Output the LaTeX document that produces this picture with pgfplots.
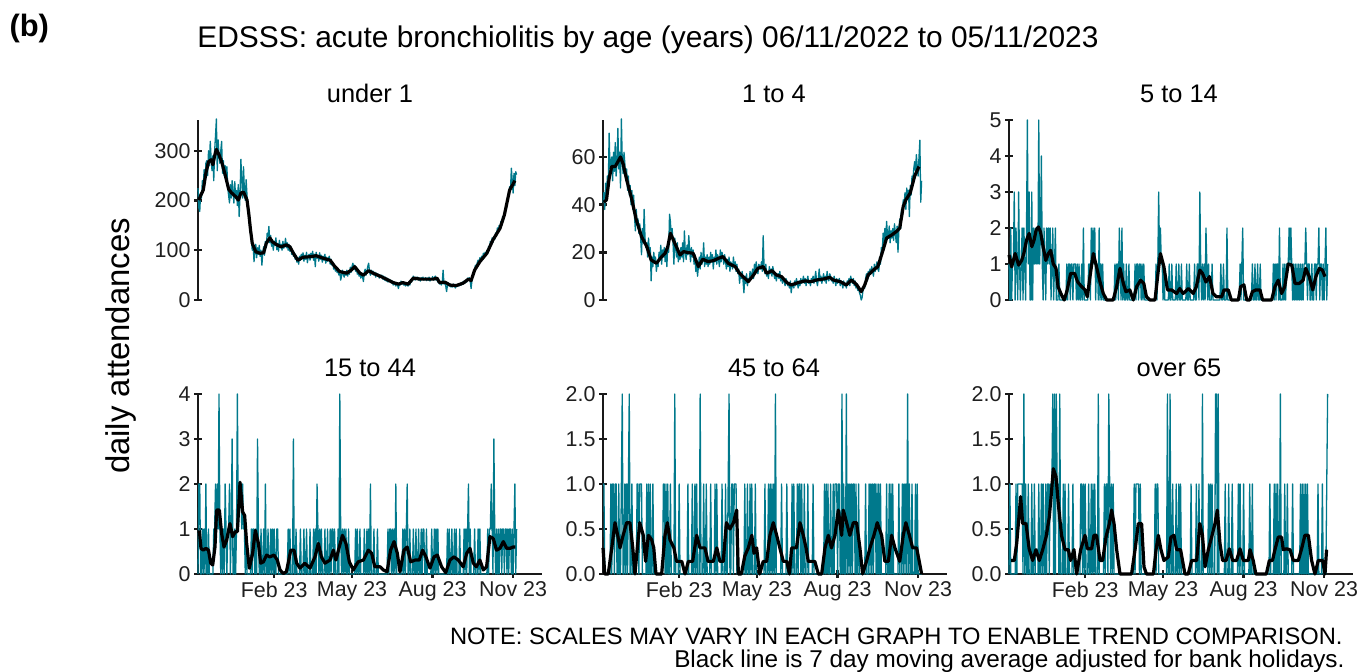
\documentclass[border=0pt]{standalone}
\usepackage{fontspec}
\setmainfont{Liberation Sans}
\usepackage{pgfplots}
\usepackage{pgfplotstable}
\pgfplotsset{compat=1.18}
\definecolor{tealc}{RGB}{0,121,140}
\definecolor{axc}{RGB}{25,25,25}

% under 1 (daily)
\pgfplotstableread[header=false,row sep=\\]{
225\\185\\178\\215\\205\\240\\228\\262\\235\\275\\
280\\250\\300\\270\\319\\285\\260\\290\\240\\300\\
330\\364\\260\\322\\290\\275\\300\\319\\255\\280\\
250\\270\\240\\268\\225\\210\\195\\232\\205\\240\\
218\\195\\238\\205\\220\\190\\232\\168\\210\\283\\
240\\205\\268\\220\\200\\242\\210\\188\\170\\150\\
135\\121\\100\\110\\77\\98\\112\\85\\105\\92\\
110\\88\\100\\70\\96\\107\\90\\118\\105\\134\\
128\\148\\115\\130\\108\\121\\100\\118\\110\\125\\
101\\114\\98\\120\\105\\112\\100\\118\\104\\110\\
124\\105\\115\\100\\112\\98\\108\\92\\100\\88\\
95\\82\\90\\76\\85\\72\\88\\80\\92\\84\\
95\\78\\90\\82\\96\\75\\88\\92\\80\\94\\
85\\98\\80\\92\\67\\96\\84\\90\\78\\95\\
82\\90\\76\\88\\80\\92\\74\\86\\78\\84\\
88\\72\\82\\70\\76\\62\\70\\58\\66\\55\\
62\\50\\58\\40\\48\\60\\52\\46\\56\\50\\
60\\48\\58\\52\\66\\56\\68\\74\\62\\70\\
58\\66\\52\\60\\48\\56\\44\\54\\46\\37\\
56\\62\\50\\58\\68\\74\\56\\50\\60\\52\\
58\\50\\56\\46\\54\\48\\52\\44\\50\\46\\
50\\42\\48\\40\\46\\38\\44\\36\\42\\38\\
40\\34\\38\\30\\36\\32\\28\\35\\30\\23\\
34\\30\\38\\32\\36\\30\\34\\28\\35\\30\\
28\\34\\30\\38\\36\\42\\48\\44\\40\\46\\
42\\46\\40\\44\\38\\45\\41\\46\\40\\43\\
45\\39\\44\\40\\46\\38\\43\\41\\47\\40\\
44\\48\\40\\42\\36\\38\\32\\36\\30\\34\\
60\\32\\36\\28\\17\\30\\34\\28\\32\\26\\
30\\26\\32\\28\\24\\30\\27\\32\\28\\31\\
34\\30\\36\\32\\38\\34\\40\\36\\44\\40\\
45\\38\\23\\40\\48\\58\\62\\70\\66\\75\\
80\\72\\85\\78\\88\\82\\94\\86\\96\\90\\
100\\94\\108\\104\\118\\110\\125\\116\\127\\122\\
135\\128\\145\\138\\150\\142\\158\\150\\168\\160\\
175\\185\\180\\195\\205\\210\\228\\222\\265\\240\\
215\\255\\230\\258\\252\\
}\tA

% 1 to 4 (daily)
\pgfplotstableread[header=false,row sep=\\]{
41\\45\\38\\49\\44\\52\\47\\70\\55\\58\\
60\\50\\62\\54\\66\\52\\58\\72\\55\\62\\
47\\76\\58\\53\\62\\57\\50\\55\\46\\52\\
44\\48\\40\\46\\38\\44\\35\\29\\38\\32\\
34\\28\\32\\26\\19\\30\\24\\38\\26\\22\\
24\\18\\26\\20\\22\\8\\18\\14\\20\\16\\
18\\12\\16\\14\\20\\17\\23\\15\\21\\18\\
22\\16\\21\\14\\24\\20\\36\\33\\26\\30\\
24\\15\\26\\22\\18\\24\\16\\20\\17\\22\\
18\\24\\16\\29\\20\\17\\23\\19\\27\\21\\
16\\22\\18\\21\\15\\19\\12\\16\\10\\14\\
18\\13\\20\\15\\17\\24\\14\\18\\15\\19\\
14\\18\\15\\20\\16\\19\\13\\18\\16\\21\\
15\\19\\17\\14\\21\\16\\20\\18\\15\\19\\
16\\13\\17\\14\\18\\12\\16\\15\\13\\18\\
14\\16\\12\\15\\11\\13\\7\\11\\9\\12\\
8\\3\\10\\7\\11\\6\\9\\8\\12\\10\\
11\\13\\9\\15\\12\\16\\13\\11\\15\\14\\
13\\16\\12\\27\\14\\11\\15\\10\\12\\9\\
14\\11\\13\\10\\14\\12\\9\\11\\8\\10\\
11\\9\\12\\8\\10\\7\\9\\8\\6\\9\\
8\\6\\7\\5\\8\\3\\6\\7\\5\\8\\
6\\9\\7\\5\\8\\6\\9\\7\\8\\10\\
7\\9\\6\\8\\10\\7\\8\\6\\9\\8\\
10\\7\\9\\12\\8\\6\\9\\13\\8\\10\\
7\\9\\11\\8\\10\\7\\12\\9\\8\\11\\
10\\8\\9\\7\\10\\8\\6\\9\\7\\8\\
9\\6\\8\\7\\5\\8\\6\\7\\5\\8\\
7\\9\\6\\10\\8\\7\\9\\6\\8\\5\\
7\\4\\5\\3\\2\\0\\1\\4\\6\\5\\
9\\11\\8\\12\\10\\13\\11\\14\\12\\10\\
15\\12\\14\\16\\13\\12\\18\\15\\22\\20\\
28\\24\\30\\25\\33\\27\\26\\31\\24\\29\\
26\\30\\25\\32\\28\\24\\31\\20\\29\\34\\
30\\38\\35\\42\\40\\45\\38\\47\\43\\46\\
35\\48\\44\\52\\50\\55\\58\\54\\61\\56\\
52\\60\\67\\41\\50\\
}\tB

% 5 to 14 (daily)
\pgfplotstableread[header=false,row sep=\\]{
1\\0\\2\\0\\1\\1\\3\\
0\\2\\1\\0\\3\\1\\0\\
1\\2\\0\\2\\1\\0\\2\\
5\\1\\3\\0\\0\\3\\0\\
2\\1\\2\\1\\2\\1\\5\\
1\\2\\4\\1\\0\\2\\1\\
0\\2\\1\\2\\1\\2\\0\\
1\\2\\0\\1\\2\\0\\0\\
0\\1\\0\\0\\0\\0\\0\\
0\\0\\0\\1\\0\\1\\1\\
0\\1\\1\\0\\1\\1\\1\\
0\\1\\0\\1\\0\\0\\1\\
0\\2\\0\\0\\0\\0\\0\\
1\\1\\0\\2\\1\\2\\1\\
2\\0\\1\\1\\0\\2\\0\\
1\\0\\1\\0\\0\\0\\0\\
0\\0\\0\\0\\0\\0\\0\\
0\\0\\1\\0\\1\\1\\0\\
2\\1\\0\\2\\0\\1\\0\\
0\\1\\0\\0\\1\\0\\0\\
0\\0\\0\\0\\1\\0\\1\\
1\\0\\1\\1\\0\\1\\0\\
1\\0\\0\\0\\0\\0\\0\\
0\\0\\0\\0\\0\\0\\0\\
1\\0\\1\\3\\1\\2\\1\\
1\\0\\1\\0\\0\\0\\0\\
0\\1\\0\\0\\1\\0\\0\\
0\\0\\1\\0\\0\\1\\0\\
0\\1\\0\\0\\0\\0\\0\\
1\\0\\0\\1\\0\\0\\0\\
0\\0\\1\\0\\0\\1\\1\\
0\\3\\1\\0\\1\\0\\1\\
0\\2\\1\\0\\1\\0\\0\\
0\\1\\0\\0\\0\\0\\0\\
0\\0\\0\\0\\1\\0\\0\\
1\\0\\0\\0\\2\\0\\0\\
0\\0\\0\\0\\0\\0\\0\\
0\\0\\0\\0\\0\\1\\0\\
1\\2\\0\\0\\0\\0\\0\\
0\\0\\0\\0\\0\\1\\0\\
0\\1\\0\\0\\1\\0\\0\\
1\\0\\0\\0\\0\\0\\0\\
0\\0\\0\\0\\0\\0\\0\\
0\\1\\0\\1\\0\\1\\1\\
0\\2\\0\\0\\0\\1\\0\\
1\\0\\1\\1\\1\\2\\1\\
2\\1\\0\\1\\0\\1\\0\\
1\\0\\1\\0\\1\\0\\1\\
0\\1\\1\\2\\1\\0\\1\\
1\\0\\0\\1\\0\\0\\1\\
1\\0\\1\\1\\2\\0\\1\\
1\\0\\1\\0\\1\\2\\0\\
1\\
}\tC

% 15 to 44 (daily)
\pgfplotstableread[header=false,row sep=\\]{
0\\2\\2\\0\\0\\1\\0\\
1\\0\\2\\0\\0\\1\\0\\
0\\0\\0\\0\\1\\1\\2\\
1\\2\\1\\4\\1\\0\\1\\
0\\1\\0\\2\\1\\0\\1\\
1\\2\\0\\1\\3\\0\\0\\
1\\0\\1\\4\\1\\2\\2\\
2\\1\\2\\1\\1\\0\\1\\
0\\0\\0\\0\\0\\1\\0\\
1\\1\\0\\1\\0\\3\\1\\
0\\0\\1\\0\\0\\1\\0\\
2\\0\\0\\1\\0\\0\\1\\
0\\1\\0\\1\\0\\0\\1\\
1\\0\\0\\0\\0\\0\\0\\
0\\0\\0\\0\\0\\1\\0\\
1\\0\\0\\0\\3\\0\\0\\
1\\0\\0\\0\\0\\1\\0\\
0\\0\\1\\0\\0\\1\\0\\
0\\0\\1\\0\\0\\0\\1\\
0\\1\\0\\2\\1\\0\\1\\
0\\1\\0\\0\\0\\1\\0\\
0\\1\\0\\0\\1\\0\\1\\
1\\0\\1\\0\\0\\0\\1\\
0\\4\\1\\0\\1\\0\\1\\
0\\1\\0\\0\\1\\0\\0\\
0\\0\\0\\0\\0\\1\\0\\
1\\0\\0\\1\\0\\0\\0\\
0\\1\\0\\0\\1\\0\\1\\
0\\2\\0\\0\\0\\1\\0\\
0\\0\\1\\0\\0\\0\\0\\
0\\0\\0\\0\\0\\0\\0\\
1\\0\\1\\1\\0\\1\\0\\
1\\0\\2\\0\\0\\0\\0\\
0\\0\\0\\1\\0\\1\\0\\
1\\2\\0\\0\\1\\0\\0\\
0\\1\\0\\0\\1\\0\\0\\
1\\0\\0\\1\\0\\1\\1\\
0\\0\\1\\0\\0\\0\\0\\
0\\1\\0\\0\\1\\0\\1\\
0\\1\\0\\0\\0\\0\\0\\
0\\0\\0\\0\\0\\1\\0\\
1\\0\\0\\1\\0\\0\\1\\
0\\1\\0\\0\\0\\1\\0\\
0\\0\\0\\1\\0\\1\\0\\
1\\2\\0\\1\\0\\0\\0\\
0\\1\\0\\0\\0\\1\\0\\
1\\0\\0\\0\\0\\0\\0\\
0\\0\\1\\0\\1\\1\\2\\
1\\0\\3\\1\\0\\1\\0\\
1\\0\\1\\1\\0\\1\\1\\
0\\1\\1\\0\\1\\0\\1\\
1\\0\\1\\0\\1\\2\\0\\
1\\
}\tD

% 45 to 64 (daily)
\pgfplotstableread[header=false,row sep=\\]{
1\\1\\0\\0\\0\\0\\0\\
0\\0\\1\\0\\1\\1\\0\\
1\\1\\0\\0\\1\\0\\0\\
1\\2\\0\\0\\1\\0\\1\\
0\\1\\2\\0\\0\\1\\0\\
0\\0\\0\\0\\1\\1\\0\\
1\\1\\1\\0\\0\\0\\0\\
0\\1\\0\\1\\0\\1\\0\\
0\\1\\0\\0\\0\\0\\0\\
0\\0\\0\\0\\0\\0\\1\\
1\\0\\1\\0\\1\\0\\0\\
1\\0\\0\\0\\0\\2\\0\\
0\\0\\0\\1\\0\\0\\0\\
0\\0\\0\\0\\0\\0\\1\\
0\\0\\0\\0\\1\\0\\0\\
1\\0\\1\\0\\0\\0\\2\\
0\\0\\0\\1\\0\\0\\1\\
0\\0\\0\\0\\1\\0\\0\\
0\\0\\1\\0\\1\\0\\0\\
0\\0\\0\\1\\0\\0\\0\\
1\\0\\0\\1\\2\\0\\0\\
1\\1\\0\\1\\1\\1\\0\\
0\\0\\0\\0\\0\\0\\0\\
0\\1\\0\\0\\1\\0\\0\\
1\\0\\1\\0\\0\\0\\1\\
0\\0\\0\\0\\0\\0\\0\\
0\\0\\0\\1\\0\\0\\0\\
1\\0\\1\\0\\1\\0\\1\\
0\\2\\0\\0\\0\\0\\0\\
0\\1\\0\\0\\0\\0\\0\\
1\\0\\0\\0\\0\\0\\1\\
0\\1\\0\\0\\0\\1\\0\\
1\\1\\0\\1\\0\\0\\1\\
0\\0\\0\\1\\0\\0\\0\\
0\\0\\1\\0\\0\\0\\0\\
0\\0\\0\\0\\0\\0\\0\\
0\\1\\0\\1\\0\\1\\0\\
0\\1\\0\\0\\1\\0\\1\\
1\\1\\0\\1\\1\\0\\0\\
2\\0\\1\\0\\0\\2\\0\\
1\\0\\1\\0\\1\\0\\1\\
1\\0\\1\\0\\0\\1\\0\\
0\\0\\0\\0\\0\\0\\1\\
0\\0\\0\\1\\0\\1\\0\\
1\\0\\1\\1\\0\\1\\0\\
1\\0\\1\\0\\0\\0\\0\\
0\\0\\1\\0\\0\\1\\0\\
1\\0\\1\\0\\0\\0\\0\\
0\\0\\1\\0\\0\\0\\1\\
0\\1\\0\\1\\0\\2\\0\\
1\\0\\0\\1\\0\\0\\0\\
1\\0\\1\\0\\0\\0\\0\\
0\\
}\tE

% over 65 (daily)
\pgfplotstableread[header=false,row sep=\\]{
0\\1\\0\\0\\0\\0\\0\\
0\\1\\0\\1\\1\\1\\1\\
1\\1\\0\\2\\0\\1\\0\\
0\\1\\0\\0\\0\\1\\0\\
0\\1\\0\\0\\0\\0\\1\\
0\\0\\1\\0\\1\\0\\0\\
1\\0\\1\\1\\0\\1\\1\\
1\\2\\0\\2\\0\\2\\1\\
1\\0\\2\\0\\0\\0\\1\\
0\\1\\0\\0\\0\\1\\0\\
0\\0\\0\\1\\0\\0\\0\\
0\\0\\0\\0\\0\\1\\1\\
0\\1\\0\\1\\0\\0\\0\\
1\\0\\0\\1\\0\\1\\0\\
1\\0\\0\\0\\2\\0\\0\\
0\\0\\0\\0\\1\\0\\1\\
1\\0\\2\\1\\0\\1\\0\\
1\\0\\0\\0\\0\\0\\0\\
0\\0\\0\\0\\0\\0\\0\\
0\\0\\0\\0\\0\\0\\0\\
0\\0\\0\\1\\0\\1\\1\\
1\\1\\0\\1\\0\\0\\0\\
0\\0\\0\\0\\0\\0\\0\\
0\\0\\0\\0\\0\\0\\1\\
0\\1\\1\\0\\0\\0\\0\\
0\\0\\0\\0\\0\\0\\2\\
0\\0\\2\\0\\0\\1\\0\\
0\\0\\1\\0\\0\\1\\0\\
1\\0\\0\\0\\0\\0\\0\\
0\\0\\0\\0\\0\\1\\0\\
0\\0\\0\\0\\1\\0\\0\\
1\\0\\0\\0\\2\\0\\0\\
0\\0\\0\\0\\1\\0\\1\\
0\\1\\0\\0\\0\\2\\2\\
0\\2\\0\\0\\0\\0\\0\\
0\\0\\1\\0\\0\\0\\1\\
0\\0\\0\\1\\0\\0\\0\\
0\\0\\0\\1\\0\\1\\0\\
0\\0\\1\\0\\0\\0\\0\\
0\\0\\1\\0\\0\\1\\0\\
0\\0\\0\\0\\0\\0\\0\\
0\\0\\0\\0\\0\\0\\0\\
0\\0\\0\\0\\1\\0\\0\\
0\\0\\1\\0\\1\\0\\1\\
0\\0\\2\\0\\0\\0\\0\\
1\\0\\0\\1\\0\\0\\0\\
0\\0\\1\\0\\0\\0\\0\\
0\\0\\0\\0\\1\\0\\1\\
0\\1\\0\\1\\0\\1\\0\\
0\\0\\0\\0\\0\\0\\0\\
0\\0\\0\\1\\0\\0\\0\\
0\\1\\0\\0\\0\\0\\1\\
2\\
}\tF

\pgfplotsset{
  panel/.style={
    width=344bp, height=180bp, scale only axis,
    xmin=0, xmax=393, ymin=0,
    clip=false,
    axis line style={-, line width=2.4bp, axc},
    tick style={line width=2.4bp, axc},
    major tick length=8bp,
    tick align=outside,
    tick label style={font=\fontsize{21.5}{25}\selectfont, text=black!88},
  },
  toprow/.style={panel, axis x line=none, axis y line=left, axis line style={-}, xtick=\empty},
  botrow/.style={panel, axis x line=bottom, axis y line=left, axis line style={-},
    xtick={87,176,268,360}, xticklabels={Feb 23,May 23,Aug 23,Nov 23}},
  tl/.style={color=tealc, line width=1.3bp, line join=round},
  ml/.style={color=black, line width=3.2bp, line join=round},
}

\begin{document}
\begin{tikzpicture}
\path[use as bounding box] (0,0) rectangle (1357bp,672bp);

\node[anchor=base west, font=\bfseries\fontsize{31}{36}\selectfont] at (6bp,635bp) {(b)};
\node[anchor=base, font=\fontsize{30}{34}\selectfont] at (648bp,624bp) {EDSSS: acute bronchiolitis by age (years) 06/11/2022 to 05/11/2023};
\node[rotate=90, font=\fontsize{33}{38}\selectfont] at (121bp,326bp) {daily attendances};

\node[anchor=base, font=\fontsize{25.5}{30}\selectfont] at (370bp,569bp) {under 1};
\node[anchor=base, font=\fontsize{25.5}{30}\selectfont] at (774bp,569bp) {1 to 4};
\node[anchor=base, font=\fontsize{25.5}{30}\selectfont] at (1179bp,569bp) {5 to 14};
\node[anchor=base, font=\fontsize{25.5}{30}\selectfont] at (370bp,295bp) {15 to 44};
\node[anchor=base, font=\fontsize{25.5}{30}\selectfont] at (774bp,295bp) {45 to 64};
\node[anchor=base, font=\fontsize{25.5}{30}\selectfont] at (1179bp,295bp) {over 65};

\node[anchor=base east, font=\fontsize{23.8}{28}\selectfont] at (1346bp,28bp) {NOTE: SCALES MAY VARY IN EACH GRAPH TO ENABLE TREND COMPARISON.};
\node[anchor=base east, font=\fontsize{24.4}{28}\selectfont] at (1348bp,5bp) {Black line is 7 day moving average adjusted for bank holidays.};

% under 1
\begin{axis}[toprow, at={(198bp,372bp)}, anchor=south west, ymax=362,
  ytick={0,100,200,300}, yticklabels={0,100,200,300}]
\addplot[tl] table[x expr=\coordindex, y index=0] {\tA};
\addplot[ml] coordinates {(1,201)(3,210)(6,221)(9,255)(12,278)(15,282)(17,272)(19,290)(21,303)(24,292)(27,278)(31,252)(35,223)(38,216)(43,208)(46,201)(49,215)(52,217)(56,201)(58,174)(60,141)(62,114)(66,97)(71,94)(75,95)(78,114)(82,125)(85,117)(90,111)(95,107)(101,111)(105,107)(109,94)(114,80)(120,86)(128,87)(135,89)(143,84)(151,80)(156,68)(162,57)(170,54)(175,60)(179,67)(185,54)(189,50)(195,59)(200,54)(208,48)(215,42)(223,35)(229,32)(234,35)(240,32)(246,44)(254,42)(261,42)(269,42)(273,44)(276,35)(282,36)(288,30)(295,29)(303,34)(309,42)(312,39)(316,60)(322,77)(330,94)(337,121)(345,144)(350,171)(356,221)(362,240)};
\end{axis}

% 1 to 4
\begin{axis}[toprow, at={(603bp,372bp)}, anchor=south west, ymax=75.5,
  ytick={0,20,40,60}, yticklabels={0,20,40,60}]
\addplot[tl] table[x expr=\coordindex, y index=0] {\tB};
\addplot[ml] coordinates {(1,41)(4,42)(7,51)(10,56)(14,56)(17,58)(20,60)(23,57)(27,50.5)(33,42)(38,33.6)(44,26.6)(50,22.4)(55,16.8)(61,15.4)(67,18.2)(71,19.6)(74,22.4)(77,28)(82,23.8)(88,18.9)(92,20.3)(97,19.9)(103,19.6)(109,14)(114,17.1)(120,16.1)(126,16.5)(132,17.5)(137,18.2)(143,15.4)(151,14)(156,11.2)(162,9.1)(166,7.7)(172,10.5)(177,13.3)(183,14)(187,11.2)(193,12.3)(198,10.5)(204,9.8)(210,7.3)(215,6.3)(223,7.3)(231,8)(238,7.7)(244,8.4)(252,8.8)(259,9.5)(263,8.4)(271,7.7)(278,6.3)(284,8.4)(290,6.3)(295,3.5)(299,6.3)(303,10.5)(309,12.6)(314,14)(320,21)(324,26)(330,27.3)(335,28.7)(339,30.1)(343,39.3)(346,42)(351,44.9)(356,51.9)(361,56)};
\end{axis}

% 5 to 14
\begin{axis}[toprow, at={(1009bp,372bp)}, anchor=south west, ymax=5,
  ytick={0,1,2,3,4,5}, yticklabels={0,1,2,3,4,5}]
\addplot[tl] table[x expr=\coordindex, y index=0] {\tC};
\addplot[ml] coordinates {(0,1.25)(3,0.92)(7,1.29)(11,0.97)(14.5,1.1)(17,1.3)(20,1.66)(23,1.85)(26,1.48)(28.6,1.66)(31,1.94)(33.5,2.03)(36,1.89)(39,1.48)(42,1.1)(45,1.29)(47.6,1.38)(50.6,1.0)(53.7,0.88)(56,0.37)(60,0.14)(63,0)(66,0.23)(70.4,0.74)(75,0.74)(78.4,0.5)(83,0.37)(86.8,0.28)(89.5,0.09)(92.5,0.65)(96.3,1.29)(100,0.92)(104,0.5)(107.7,0.18)(111.6,0)(119,0)(123,0.37)(126.8,0.88)(130.6,0.46)(133.6,0.23)(138,0.28)(142,0)(145.8,0.37)(150.4,0.55)(154,0.46)(157,0.09)(161,0)(166.8,0)(170.6,0.83)(173,1.29)(177,0.92)(181,0.28)(185.8,0.28)(191.5,0.18)(195,0.32)(199,0.18)(205,0.32)(210.5,0.18)(214,0.37)(218,0.83)(221,0.74)(225,0.5)(229,0.65)(233,0.18)(237,0.09)(243,0.09)(245.6,0.28)(250.5,0.28)(254,0)(262,0)(264.6,0.37)(268.4,0.42)(271.5,0)(275,0)(278,0.23)(282,0.28)(286.7,0.28)(289.7,0)(300,0)(303.8,0.37)(307.6,0.55)(311.4,0.18)(315,0.37)(319,1.0)(323,0.97)(326.7,0.46)(331.6,0.46)(336,0.55)(339,0.88)(343,0.65)(347,0.28)(350.6,0.65)(354.5,0.88)(358,0.83)(361,0.65)};
\end{axis}

% 15 to 44
\begin{axis}[botrow, at={(198bp,98bp)}, anchor=south west, ymax=4,
  ytick={0,1,2,3,4}, yticklabels={0,1,2,3,4}]
\addplot[tl] table[x expr=\coordindex, y index=0] {\tD};
\addplot[ml] coordinates {(1.5,0.97)(3.4,0.57)(6,0.53)(9,0.57)(12,0.53)(14.5,0.24)(16.8,0.2)(19.4,0.6)(21.3,1.42)(24.4,1.42)(27,0.9)(29.7,0.6)(32.7,0.75)(36.5,1.12)(39.6,0.83)(42.6,0.94)(45,0.94)(48,2.04)(51,1.38)(53.3,1.3)(55.6,0.68)(58.6,0.13)(62.4,0.46)(65.5,0.97)(69,0.68)(71.6,0.24)(74.6,0.27)(78.4,0.42)(82,0.38)(86.8,0.42)(90.6,0.31)(93.7,0.09)(97.5,0.01)(101,0.05)(106,0.53)(109.7,0.53)(112.7,0.24)(116.5,0.13)(122,0.24)(128,0.13)(133.6,0.38)(137.5,0.68)(141,0.38)(145,0.24)(150.8,0.31)(154.6,0.53)(157.6,0.31)(161.4,0.6)(165,0.86)(169,0.68)(172.9,0.27)(177.4,0.09)(183,0.27)(189,0.31)(194.6,0.53)(198.4,0.46)(202,0.16)(208,0.16)(211.7,0.09)(216,0.05)(220,0.53)(224,0.72)(227.7,0.46)(230.7,0.05)(235.3,0.53)(239,0.6)(243,0.27)(248,0.31)(252.8,0.31)(256.6,0.53)(260.4,0.38)(265,0.13)(269.6,0.38)(273.4,0.42)(278.3,0.16)(283,0.03)(287.8,0.31)(292.4,0.38)(297.4,0.31)(303,0.16)(307,0.46)(310.7,0.57)(314.5,0.24)(318,0.16)(322,0.31)(326,0.09)(329.7,0.16)(333.5,0.83)(337.3,0.79)(341,0.53)(345,0.57)(348.8,0.72)(352.6,0.57)(356.4,0.57)(360,0.6)(362.5,0.6)};
\end{axis}

% 45 to 64
\begin{axis}[botrow, at={(603bp,98bp)}, anchor=south west, ymax=2,
  ytick={0,0.5,1,1.5,2}, yticklabels={0.0,0.5,1.0,1.5,2.0}]
\addplot[tl] table[x expr=\coordindex, y index=0] {\tE};
\addplot[ml] coordinates {(0,0.29)(2,0)(6,0)(10,0.29)(13.7,0.57)(16.8,0.43)(19.4,0.29)(23,0.43)(27,0.57)(30.8,0.57)(34,0.29)(36.5,0)(39.2,0.29)(42,0.57)(46,0.43)(48.7,0.14)(51.8,0.43)(55.6,0.38)(58,0.29)(60.5,0)(67,0)(70.8,0.43)(73.5,0.57)(76.5,0.38)(81,0.29)(84,0.14)(90,0.14)(93.7,0)(97.5,0.14)(102.4,0.14)(107,0.43)(110.8,0.29)(116.5,0.29)(120,0.14)(126,0.14)(130,0.29)(133.6,0.14)(137.4,0.14)(141,0.57)(145,0.5)(149,0.57)(152.7,0.71)(154.6,0)(158,0)(162,0.2)(166,0.29)(170,0.43)(172.5,0.23)(175.5,0.29)(179,0)(183,0.14)(187,0.14)(190.7,0.43)(194.5,0.57)(198.4,0.43)(202,0.29)(206,0.14)(210,0.14)(213,0)(215.5,0.29)(221,0.29)(225,0.57)(228.8,0.43)(232,0.29)(234.5,0.14)(242,0.14)(246,0)(249.8,0)(253.6,0.29)(257.4,0.43)(261,0.29)(265,0.43)(268.8,0.71)(272.6,0.43)(274.5,0.71)(278.3,0.57)(282,0.43)(286,0.57)(289.7,0.57)(293.5,0.29)(296.6,0)(301,0.14)(305,0.29)(309.5,0.43)(313.3,0.57)(318.3,0.43)(322,0.14)(326,0.14)(329.7,0.43)(333.5,0.29)(339,0.14)(343,0.43)(346,0.57)(350,0.43)(353.7,0.29)(358.3,0.29)(361.3,0.14)(364,0)};
\end{axis}

% over 65
\begin{axis}[botrow, at={(1009bp,98bp)}, anchor=south west, ymax=2,
  ytick={0,0.5,1,1.5,2}, yticklabels={0.0,0.5,1.0,1.5,2.0}]
\addplot[tl] table[x expr=\coordindex, y index=0] {\tF};
\addplot[ml] coordinates {(2.3,0.15)(6,0.15)(8.8,0.34)(10.7,0.56)(13.3,0.86)(15.6,0.56)(19.4,0.56)(23,0.28)(27,0.15)(30.8,0.27)(34.6,0.15)(38.5,0.27)(42.3,0.41)(46,0.63)(48.7,0.93)(50.6,1.17)(53.7,1.08)(56.3,0.78)(60,0.43)(64,0.27)(67.8,0.27)(70.4,0.15)(74.2,0.27)(77.3,0)(81.9,0.27)(86.8,0.43)(89.5,0.28)(94.4,0.28)(97,0.43)(100,0.43)(104,0.15)(107,0.15)(110.8,0.41)(114.6,0.56)(117.3,0.71)(120,0.56)(123,0.27)(126.8,0)(140,0)(144,0.27)(147.7,0.56)(151.5,0.56)(154.2,0.08)(157,0)(165,0)(168,0.27)(170.6,0.43)(173.6,0.27)(177,0.15)(182,0.19)(185,0.41)(188.5,0.43)(191.5,0.27)(196,0.27)(201,0)(204.8,0)(208.6,0.15)(214.4,0.15)(218,0.56)(221,0.43)(224,0.08)(227.7,0.27)(231.5,0.41)(235.3,0.56)(238,0.71)(241,0.34)(244,0.15)(248,0.15)(251.7,0.28)(255.5,0.15)(260,0.15)(263.9,0.28)(267.7,0.15)(273.4,0.15)(275.3,0.27)(279,0.15)(282,0)(294,0)(297.4,0.15)(301,0.15)(303.8,0.27)(307.6,0.41)(311.4,0.41)(313.3,0.27)(317,0.28)(321,0.27)(324.8,0.15)(330.5,0.15)(334.3,0.28)(338,0.43)(342,0.43)(345.7,0.15)(349.5,0)(353.3,0.15)(358.3,0.15)(361,0)(362.8,0.27)};
\end{axis}
\end{tikzpicture}
\end{document}
